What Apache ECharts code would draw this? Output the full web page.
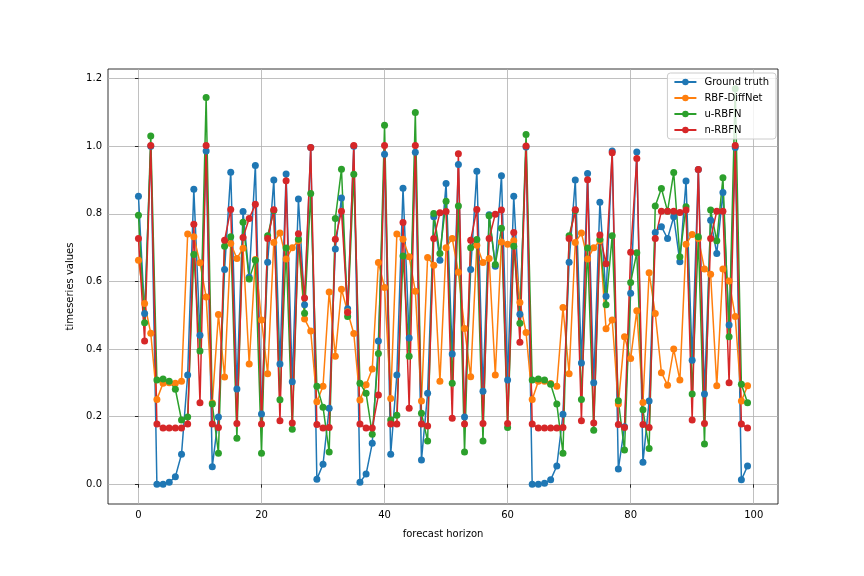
<!DOCTYPE html>
<html>
<head>
<meta charset="utf-8">
<script src="https://cdn.jsdelivr.net/npm/echarts@6/dist/echarts.min.js"></script>
<style>
  html, body { margin: 0; padding: 0; background: #fff; }
  #chart { width: 864px; height: 576px; }
</style>
</head>
<body>
<div id="chart"></div>
<script>
// 数据
const xTicks = [0, 20, 40, 60, 80, 100];
const yTicks = [0, 0.2, 0.4, 0.6, 0.8, 1.0, 1.2];

const groundTruth = [
  0.852, 0.505, 1.0, 0.0, 0.0, 0.006, 0.022, 0.089, 0.323, 0.873,
  0.441, 0.986, 0.052, 0.199, 0.635, 0.923, 0.282, 0.807, 0.612, 0.943,
  0.208, 0.657, 0.9, 0.356, 0.918, 0.303, 0.844, 0.531, 0.996, 0.015,
  0.059, 0.225, 0.696, 0.847, 0.519, 1.0, 0.006, 0.03, 0.121, 0.424,
  0.976, 0.089, 0.323, 0.876, 0.433, 0.982, 0.072, 0.269, 0.791, 0.663,
  0.89, 0.385, 0.946, 0.199, 0.635, 0.926, 0.275, 0.797, 0.645, 0.913,
  0.308, 0.852, 0.503, 0.998, 0.0, 0.0, 0.003, 0.013, 0.054, 0.207,
  0.657, 0.9, 0.359, 0.919, 0.3, 0.834, 0.556, 0.986, 0.045, 0.17,
  0.565, 0.983, 0.065, 0.246, 0.745, 0.762, 0.727, 0.791, 0.658, 0.897,
  0.367, 0.931, 0.267, 0.781, 0.683, 0.863, 0.471, 0.996, 0.013, 0.054
];

const rbfDiffNet = [
  0.663, 0.535, 0.447, 0.251, 0.299, 0.30, 0.299, 0.305, 0.74, 0.732,
  0.655, 0.554, 0.24, 0.502, 0.317, 0.712, 0.668, 0.698, 0.356, 0.665,
  0.486, 0.327, 0.715, 0.743, 0.666, 0.7, 0.72, 0.489, 0.453, 0.244,
  0.29, 0.569, 0.379, 0.577, 0.51, 0.446, 0.249, 0.294, 0.341, 0.656,
  0.582, 0.254, 0.74, 0.725, 0.673, 0.571, 0.246, 0.671, 0.648, 0.305,
  0.7, 0.727, 0.627, 0.461, 0.318, 0.707, 0.656, 0.668, 0.323, 0.717,
  0.71, 0.72, 0.538, 0.449, 0.251, 0.305, 0.305, 0.298, 0.29, 0.523,
  0.327, 0.715, 0.743, 0.666, 0.7, 0.72, 0.46, 0.486, 0.237, 0.436,
  0.372, 0.513, 0.242, 0.626, 0.505, 0.33, 0.293, 0.4, 0.308, 0.71,
  0.739, 0.727, 0.637, 0.621, 0.291, 0.637, 0.601, 0.496, 0.246, 0.291
];

const uRBFN = [
  0.796, 0.478, 1.03, 0.308, 0.311, 0.305, 0.281, 0.19, 0.199, 0.68,
  0.394, 1.144, 0.237, 0.092, 0.704, 0.732, 0.136, 0.775, 0.607, 0.663,
  0.092, 0.735, 0.81, 0.25, 0.699, 0.163, 0.725, 0.506, 0.86, 0.29,
  0.228, 0.095, 0.786, 0.932, 0.496, 0.917, 0.299, 0.269, 0.148, 0.387,
  1.062, 0.19, 0.204, 0.675, 0.379, 1.1, 0.21, 0.128, 0.801, 0.683,
  0.837, 0.299, 0.823, 0.095, 0.7, 0.724, 0.128, 0.794, 0.65, 0.757,
  0.168, 0.704, 0.476, 1.035, 0.308, 0.311, 0.308, 0.296, 0.237, 0.092,
  0.735, 0.81, 0.251, 0.699, 0.16, 0.725, 0.531, 0.735, 0.247, 0.101,
  0.597, 0.685, 0.22, 0.106, 0.823, 0.875, 0.808, 0.922, 0.673, 0.821,
  0.267, 0.732, 0.119, 0.811, 0.72, 0.907, 0.436, 1.17, 0.296, 0.241
];

const nRBFN = [
  0.727, 0.424, 1.002, 0.178, 0.166, 0.166, 0.166, 0.166, 0.178, 0.769,
  0.241, 1.002, 0.178, 0.168, 0.722, 0.813, 0.18, 0.73, 0.786, 0.828,
  0.178, 0.727, 0.812, 0.188, 0.898, 0.181, 0.741, 0.551, 0.996, 0.177,
  0.166, 0.168, 0.725, 0.808, 0.508, 1.002, 0.178, 0.166, 0.166, 0.264,
  1.002, 0.178, 0.178, 0.774, 0.225, 1.002, 0.178, 0.172, 0.727, 0.803,
  0.807, 0.195, 0.978, 0.178, 0.722, 0.813, 0.18, 0.727, 0.799, 0.811,
  0.18, 0.745, 0.42, 1.001, 0.178, 0.166, 0.166, 0.166, 0.166, 0.168,
  0.727, 0.812, 0.188, 0.901, 0.181, 0.737, 0.652, 0.981, 0.177, 0.168,
  0.686, 0.964, 0.177, 0.168, 0.727, 0.808, 0.808, 0.808, 0.804, 0.811,
  0.19, 0.931, 0.18, 0.727, 0.808, 0.808, 0.3, 1.002, 0.178, 0.166
];

const seriesList = [
  { name: 'Ground truth', values: groundTruth, color: '#1f77b4' },
  { name: 'RBF-DiffNet', values: rbfDiffNet, color: '#ff7f0e' },
  { name: 'u-RBFN', values: uRBFN, color: '#2ca02c' },
  { name: 'n-RBFN', values: nRBFN, color: '#d62728' }
];

const FONT = 'DejaVu Sans';

function initChart() {
    const chart = echarts.init(document.getElementById('chart'), null, { renderer: 'canvas' });

    const option = {
        animation: false,
        backgroundColor: '#fff',
        textStyle: { fontFamily: FONT },
        grid: {
            left: 108, right: 86, top: 69, bottom: 72,
            show: true,
            borderColor: '#000',
            borderWidth: 0.8,
            backgroundColor: 'transparent'
        },
        legend: {
            orient: 'vertical',
            right: 88,
            top: 73,
            itemWidth: 22,
            itemHeight: 8,
            itemGap: 6,
            padding: [4, 7, 4, 6],
            backgroundColor: 'rgba(255,255,255,0.8)',
            borderColor: '#cccccc',
            borderWidth: 1,
            borderRadius: 3,
            textStyle: { fontFamily: FONT, fontSize: 10, color: '#000', padding: [0, 0, 0, 3] },
            data: seriesList.map(s => s.name)
        },
        xAxis: {
            type: 'value',
            min: -4.95,
            max: 103.95,
            name: 'forecast horizon',
            nameLocation: 'middle',
            nameGap: 25,
            nameTextStyle: { fontFamily: FONT, fontSize: 10, color: '#000' },
            axisLine: { show: false },
            axisTick: { show: true, length: 3.5, lineStyle: { color: '#000', width: 0.8 }, customValues: xTicks },
            axisLabel: { customValues: xTicks, fontFamily: FONT, fontSize: 10, color: '#000', margin: 6 },
            splitLine: { show: true, lineStyle: { color: '#b0b0b0', width: 0.8 } }
        },
        yAxis: {
            type: 'value',
            min: -0.0585,
            max: 1.2285,
            name: 'timeseries values',
            nameLocation: 'middle',
            nameGap: 33,
            nameTextStyle: { fontFamily: FONT, fontSize: 10, color: '#000' },
            axisLine: { show: false },
            axisTick: { show: true, length: 3.5, lineStyle: { color: '#000', width: 0.8 }, customValues: yTicks },
            axisLabel: {
                customValues: yTicks,
                fontFamily: FONT, fontSize: 10, color: '#000', margin: 6,
                formatter: v => v.toFixed(1)
            },
            splitLine: { show: true, lineStyle: { color: '#b0b0b0', width: 0.8 } }
        },
        series: seriesList.map(s => ({
            name: s.name,
            type: 'line',
            data: s.values.map((v, i) => [i, v]),
            symbol: 'circle',
            symbolSize: 7,
            showSymbol: true,
            lineStyle: { color: s.color, width: 1.5 },
            itemStyle: { color: s.color },
            emphasis: { disabled: true }
        }))
    };

    chart.setOption(option);
}

initChart();
</script>
</body>
</html>
